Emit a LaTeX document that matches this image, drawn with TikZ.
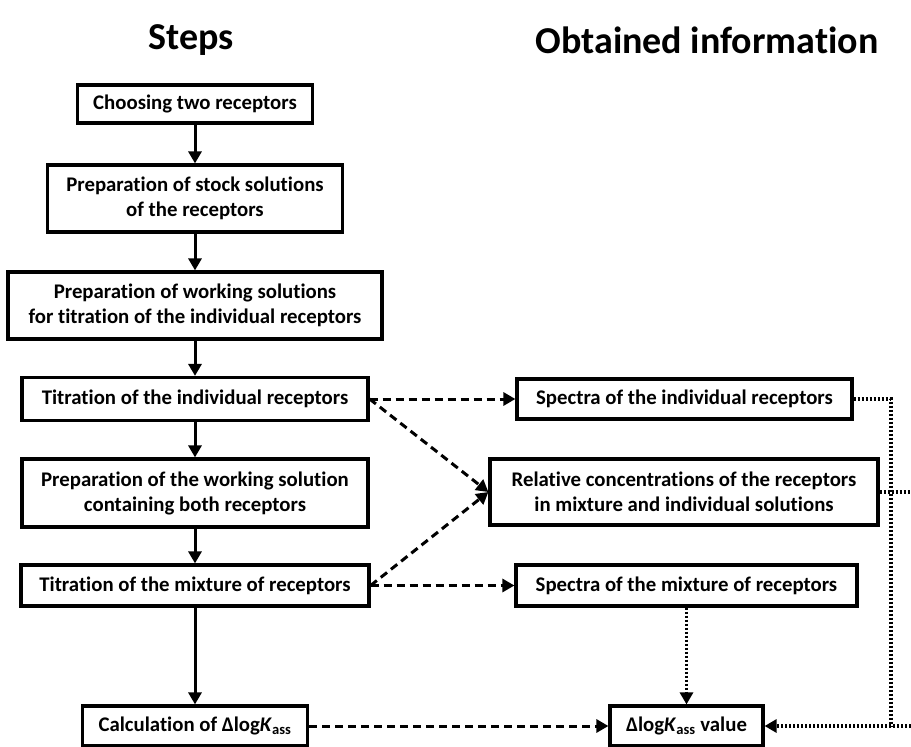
\documentclass[tikz,border=0pt]{standalone}
\usepackage{fontspec}
\setmainfont{Carlito}[Ligatures=NoCommon]
\usetikzlibrary{arrows.meta}

\begin{document}
\begin{tikzpicture}[x=1pt,y=-1pt]
		\tikzstyle{every node}+=[inner sep=0pt, align=center, font=\bfseries\fontsize{20.8}{25}\selectfont]
		\tikzstyle{stepbox}=[draw=black, line width=3.2pt, fill=white]
		\tikzstyle{headtext}=[font=\bfseries\fontsize{38}{42}\selectfont]
		\tikzstyle{flow}=[line width=3pt, -{Triangle[length=12pt,width=13pt]}]
		\tikzstyle{dataflow}=[flow, dash pattern=on 8pt off 5pt]
		\tikzstyle{infoflow}=[line width=3.4pt, dash pattern=on 2.4pt off 1.6pt]
		\useasboundingbox (0,0) rectangle (911,747);
		% headings
		\node [headtext] (steps) at (191,40) {Steps};
		\node [headtext] (obtained) at (707,40) {Obtained information};
		% steps
		\node [stepbox, minimum width=235pt, minimum height=38pt] (choose) at (195,104) {Choosing two receptors};
		\node [stepbox, minimum width=295pt, minimum height=67pt] (stock) at (195,198.5) {Preparation of stock solutions\\of the receptors};
		\node [stepbox, minimum width=374pt, minimum height=67pt] (working) at (195,305.5) {Preparation of working solutions\\for titration of the individual receptors};
		\node [stepbox, minimum width=346pt, minimum height=43pt] (titrind) at (195,399) {Titration of the individual receptors};
		\node [stepbox, minimum width=346pt, minimum height=68pt] (mixprep) at (195,493) {Preparation of the working solution\\containing both receptors};
		\node [stepbox, minimum width=348pt, minimum height=41pt] (titrmix) at (195,585.5) {Titration of the mixture of receptors};
		\node [stepbox, minimum width=225pt, minimum height=40pt] (calc) at (195,726) {Calculation of Δlog\textit{K}\textsubscript{ass}};
		% obtained information
		\node [stepbox, minimum width=335pt, minimum height=40pt] (specind) at (684.5,399) {Spectra of the individual receptors};
		\node [stepbox, minimum width=388pt, minimum height=66pt] (relconc) at (684,492) {Relative concentrations of the receptors\\in mixture and individual solutions};
		\node [stepbox, minimum width=341pt, minimum height=41pt] (specmix) at (686.5,585.5) {Spectra of the mixture of receptors};
		\node [stepbox, minimum width=153pt, minimum height=40pt] (dlogval) at (686.5,726) {Δlog\textit{K}\textsubscript{ass} value};
		\coordinate (drop) at (891,726);
		\coordinate (rimmid) at (911,492);
		\coordinate (rimlow) at (911,726);
		% step arrows
		\draw [flow] (choose) -- (stock);
		\draw [flow] (stock) -- (working);
		\draw [flow] (working) -- (titrind);
		\draw [flow] (titrind) -- (mixprep);
		\draw [flow] (mixprep) -- (titrmix);
		\draw [flow] (titrmix) -- (calc);
		% dashed arrows
		\draw [dataflow] (titrind.east) -- (specind.west);
		\draw [dataflow] (titrind.east) -- (relconc.west);
		\draw [dataflow] (titrmix.east) -- (relconc.west);
		\draw [dataflow] (titrmix.east) -- (specmix.west);
		\draw [dataflow] (calc.east) -- (dlogval.west);
		% dotted lines
		\draw [infoflow, -{Triangle[length=12pt,width=13pt]}] (specmix) -- (dlogval);
		\draw [infoflow] (specind.east) -| (drop);
		\draw [infoflow] (relconc.east) -- (rimmid);
		\draw [infoflow, -{Triangle[length=12pt,width=13pt]}] (rimlow) -- (dlogval.east);
	\end{tikzpicture}
\end{document}
